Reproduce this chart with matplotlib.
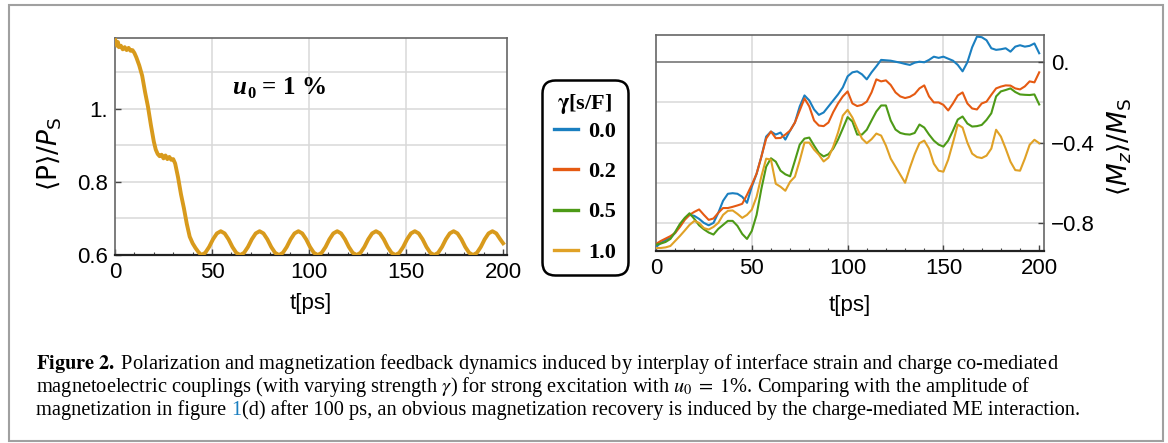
import numpy as np
import matplotlib.pyplot as plt
from matplotlib.patches import Rectangle
from matplotlib.ticker import MultipleLocator

plt.rcParams['mathtext.fontset'] = 'stix'
plt.rcParams['font.family'] = 'Liberation Sans'

# ---- left panel: <P>/P_S for u0 = 1 %
t_drop = [0, 0.5, 1, 1.5, 2, 3, 4, 5, 6, 7,
          8, 9, 10, 11, 12.5, 14, 15.5, 17, 18.5, 20,
          21, 22, 23, 24, 25, 26, 27, 28, 29, 30,
          31, 32.5, 34, 35.5, 37, 38.5, 40, 41.5, 43]
p_drop = [1.19, 1.18, 1.172, 1.182, 1.168, 1.172, 1.162, 1.168, 1.16, 1.166,
          1.158, 1.16, 1.152, 1.14, 1.118, 1.09, 1.045, 1.005, 0.955, 0.91,
          0.888, 0.876, 0.87, 0.874, 0.864, 0.872, 0.862, 0.868, 0.86, 0.862,
          0.85, 0.812, 0.766, 0.728, 0.685, 0.65, 0.632, 0.619, 0.608]
t_osc = np.arange(44.5, 199, 2.0)
p_osc = [0.600, 0.606, 0.622, 0.643, 0.659, 0.665, 0.659, 0.643, 0.622, 0.606,
         0.600, 0.606, 0.622, 0.643, 0.659, 0.665, 0.659, 0.643, 0.622, 0.606,
         0.600, 0.606, 0.622, 0.643, 0.659, 0.665, 0.659, 0.643, 0.622, 0.606,
         0.600, 0.606, 0.622, 0.643, 0.659, 0.665, 0.659, 0.643, 0.622, 0.606,
         0.600, 0.606, 0.622, 0.643, 0.659, 0.665, 0.659, 0.643, 0.622, 0.606,
         0.600, 0.606, 0.622, 0.643, 0.659, 0.665, 0.659, 0.643, 0.622, 0.606,
         0.600, 0.606, 0.622, 0.643, 0.659, 0.665, 0.659, 0.643, 0.622, 0.606,
         0.600, 0.606, 0.622, 0.643, 0.659, 0.665, 0.659, 0.643]
t_end = [200]
p_end = [0.632]

# ---- right panel: <Mz>/M_S for several gamma
t_m = np.arange(0, 200.1, 2.5)
mz_00 = [-0.92, -0.90, -0.885, -0.875, -0.85, -0.81, -0.78, -0.76, -0.765, -0.78,
         -0.80, -0.812, -0.80, -0.75, -0.69, -0.655, -0.652, -0.655, -0.67, -0.70,
         -0.62, -0.555, -0.47, -0.37, -0.345, -0.36, -0.35, -0.385, -0.34, -0.30,
         -0.22, -0.165, -0.19, -0.235, -0.262, -0.25, -0.22, -0.19, -0.16, -0.125,
         -0.07, -0.05, -0.045, -0.06, -0.085, -0.05, -0.02, 0.012, 0.01, 0.008,
         0.003, -0.002, -0.008, -0.013, -0.002, 0.003, 0.0, 0.012, 0.028, 0.022,
         0.028, 0.018, 0.008, -0.013, -0.045, 0.0, 0.075, 0.128, 0.125, 0.11,
         0.07, 0.062, 0.065, 0.07, 0.053, 0.078, 0.085, 0.078, 0.082, 0.094,
         0.045]
mz_02 = [-0.905, -0.89, -0.878, -0.866, -0.85, -0.82, -0.785, -0.76, -0.745, -0.733,
         -0.76, -0.785, -0.778, -0.75, -0.726, -0.726, -0.72, -0.713, -0.705, -0.66,
         -0.61, -0.555, -0.47, -0.38, -0.345, -0.378, -0.377, -0.36, -0.34, -0.30,
         -0.24, -0.18, -0.22, -0.29, -0.315, -0.318, -0.30, -0.248, -0.205, -0.17,
         -0.145, -0.205, -0.218, -0.212, -0.196, -0.15, -0.085, -0.095, -0.09, -0.113,
         -0.15, -0.17, -0.178, -0.172, -0.158, -0.13, -0.115, -0.17, -0.2, -0.2,
         -0.212, -0.24, -0.205, -0.165, -0.15, -0.205, -0.23, -0.235, -0.205, -0.196,
         -0.162, -0.13, -0.121, -0.115, -0.116, -0.13, -0.135, -0.12, -0.095, -0.1,
         -0.05]
mz_05 = [-0.908, -0.903, -0.895, -0.88, -0.845, -0.805, -0.775, -0.752, -0.78, -0.812,
         -0.832, -0.848, -0.858, -0.83, -0.81, -0.79, -0.79, -0.815, -0.855, -0.88,
         -0.84, -0.76, -0.63, -0.52, -0.478, -0.495, -0.54, -0.558, -0.568, -0.49,
         -0.41, -0.38, -0.375, -0.415, -0.452, -0.469, -0.458, -0.43, -0.385, -0.33,
         -0.273, -0.295, -0.36, -0.36, -0.336, -0.29, -0.245, -0.215, -0.215, -0.29,
         -0.335, -0.352, -0.358, -0.36, -0.352, -0.31, -0.325, -0.36, -0.39, -0.41,
         -0.42, -0.39, -0.34, -0.285, -0.27, -0.305, -0.32, -0.318, -0.312, -0.287,
         -0.254, -0.17, -0.145, -0.138, -0.13, -0.148, -0.16, -0.162, -0.163, -0.16,
         -0.21]
mz_10 = [-0.925, -0.925, -0.922, -0.915, -0.89, -0.865, -0.838, -0.81, -0.79, -0.80,
         -0.826, -0.833, -0.82, -0.80, -0.76, -0.74, -0.738, -0.755, -0.775, -0.76,
         -0.734, -0.67, -0.568, -0.48, -0.485, -0.605, -0.62, -0.64, -0.595, -0.57,
         -0.49, -0.40, -0.40, -0.435, -0.46, -0.494, -0.475, -0.42, -0.35, -0.265,
         -0.237, -0.275, -0.33, -0.38, -0.403, -0.383, -0.355, -0.365, -0.415, -0.48,
         -0.52, -0.56, -0.60, -0.525, -0.458, -0.403, -0.39, -0.43, -0.505, -0.54,
         -0.545, -0.485, -0.40, -0.31, -0.325, -0.40, -0.455, -0.472, -0.477, -0.465,
         -0.43, -0.336, -0.37, -0.43, -0.495, -0.537, -0.54, -0.48, -0.411, -0.386,
         -0.403]
gamma_labels = ['0.0', '0.2', '0.5', '1.0']
colors = ['#1a7fc0', '#e55a12', '#4d9a17', '#e0a126']

W, H = 1168, 443
fig = plt.figure(figsize=(W / 100, H / 100), dpi=100)
fig.patches.append(Rectangle((9 / W, 1 - 441 / H), (1163 - 9) / W, (441 - 5) / H,
                             transform=fig.transFigure, fill=False,
                             ec='#a0a0a0', lw=1.5))

grid_c = '#d9d9d9'


def style(ax):
    for s in ax.spines.values():
        s.set_color('#666666')
        s.set_linewidth(1.2)
    ax.spines['bottom'].set_color('#222222')
    ax.spines['bottom'].set_linewidth(1.6)
    ax.set_xticks([0, 50, 100, 150, 200])
    ax.xaxis.set_minor_locator(MultipleLocator(10))
    ax.tick_params(which='both', direction='in', color='#444444', labelsize=16, pad=5)
    ax.tick_params(which='major', length=4, width=1)
    ax.tick_params(which='minor', length=2.5, width=0.8)
    for v in [50, 100, 150]:
        ax.axvline(v, color=grid_c, lw=1.1, zorder=0)


# left
ax1 = fig.add_axes([115 / W, 1 - 255 / H, 392 / W, 217 / H])
t_p = list(t_drop) + list(t_osc) + t_end
p_p = p_drop + p_osc + p_end
ax1.plot(t_p, p_p, color='#d89a1c', lw=2.8, solid_joinstyle='round', zorder=3)
ax1.set_xlim(0, 202)
ax1.set_ylim(0.6, 1.193)
style(ax1)
ax1.set_yticks([0.6, 0.8, 1.0], ['0.6', '0.8', '1.'])
for v in [0.7, 0.8, 0.9, 1.0, 1.1]:
    ax1.axhline(v, color=grid_c, lw=1.1, zorder=0)
ax1.set_xlabel('t[ps]', fontsize=16)
ax1.xaxis.set_label_coords(0.5, (255 - 293) / 217)
ax1.text((50 - 115) / 392, (255 - 154) / 217, r'$\langle \mathrm{P}\rangle/P_{\mathrm{S}}$',
         transform=ax1.transAxes, rotation=90, ha='center', va='center',
         fontsize=19, math_fontfamily='dejavusans')

# right
ax2 = fig.add_axes([656 / W, 1 - 251 / H, 388 / W, 216 / H])
lines = []
for y, c in zip([mz_00, mz_02, mz_05, mz_10], colors):
    ln, = ax2.plot(t_m, y, color=c, lw=1.5, zorder=3)
    lines.append(ln)
ax2.set_xlim(0, 202.5)
ax2.set_ylim(-0.94, 0.136)
style(ax2)
ax2.yaxis.tick_right()
ax2.set_yticks([0, -0.4, -0.8], ['0.', '\u22120.4', '\u22120.8'])
ax2.tick_params(axis='y', which='both', left=False, right=True)
for v in [-0.2, -0.4, -0.6, -0.8]:
    ax2.axhline(v, color=grid_c, lw=1.1, zorder=0)
ax2.axhline(0, color='#777777', lw=1.2, zorder=1)
ax2.set_xlabel('t[ps]', fontsize=16)
ax2.xaxis.set_label_coords(0.5, (251 - 295) / 216)
ax2.text((1120 - 656) / 388, (251 - 147) / 216, r'$\langle M_z\rangle/M_{\mathrm{S}}$',
         transform=ax2.transAxes, rotation=90, ha='center', va='center',
         fontsize=19, math_fontfamily='dejavusans')

# legend
leg = fig.legend(lines, gamma_labels, loc='center',
                 bbox_to_anchor=(585 / W, 1 - 177.5 / H),
                 title=r'$\mathbf{\gamma}$[s/F]',
                 prop=dict(family='Liberation Serif', weight='bold', size=16),
                 title_fontproperties=dict(family='Liberation Serif', weight='bold', size=16),
                 handlelength=1.1, handletextpad=0.45, labelspacing=0.89,
                 borderpad=0.55, fancybox=True, framealpha=1, edgecolor='black')
leg._legend_box.sep = 3.5
leg.get_frame().set_linewidth(1.8)
leg.get_frame().set_boxstyle('round,pad=0,rounding_size=0.6')
for h in leg.get_lines():
    h.set_linewidth(2.4)

rend = fig.canvas.get_renderer()


def run_text(x, y, pieces):
    cur = x
    for s, gap, dy, kw in pieces:
        cur += gap
        t = fig.text(cur / W, 1 - (y + dy) / H, s, ha='left', va='baseline', **kw)
        cur += t.get_window_extent(renderer=rend).width
    return cur


bold = dict(family='Liberation Serif', weight='bold', size=18)
run_text(232, 94, [('u', 0, 0, dict(bold, style='italic')),
                   ('0', 1, 4, dict(bold, size=12)),
                   ('=', 7, 0, bold),
                   ('1', 7, 0, bold),
                   ('%', 6, 0, bold)])

# caption
cap1 = (r'$\mathbf{Figure\ 2.}\;$Polarization and magnetization feedback dynamics induced '
        r'by interplay of interface strain and charge co-mediated')
cap2 = (r'magnetoelectric couplings (with varying strength $\gamma$) for strong excitation '
        r'with $u_0\;=\;1$%. Comparing with the amplitude of')
cap3a = 'magnetization in figure'
cap3b = '1'
cap3c = ('(d) after 100 ps, an obvious magnetization recovery is induced by the '
         'charge-mediated ME interaction.')

x0 = 36.5
t1 = fig.text(x0 / W, 1 - 369.3 / H, cap1, ha='left', va='baseline',
              family='Liberation Serif', size=13.5)
w1 = t1.get_window_extent(renderer=rend).width
cap_size = 13.5 * (1060 - x0) / w1
t1.set_fontsize(cap_size)
cap = dict(family='Liberation Serif', size=cap_size)
fig.text(x0 / W, 1 - 392.3 / H, cap2, ha='left', va='baseline', **cap)
em = cap_size * 100 / 72
run_text(x0, 415, [(cap3a, 0, 0, cap),
                   (cap3b, 0.22 * em, 0, dict(cap, color='#1a7fc0')),
                   (cap3c, 0.05 * em, 0, cap)])

fig.savefig('out.png', dpi=100)
